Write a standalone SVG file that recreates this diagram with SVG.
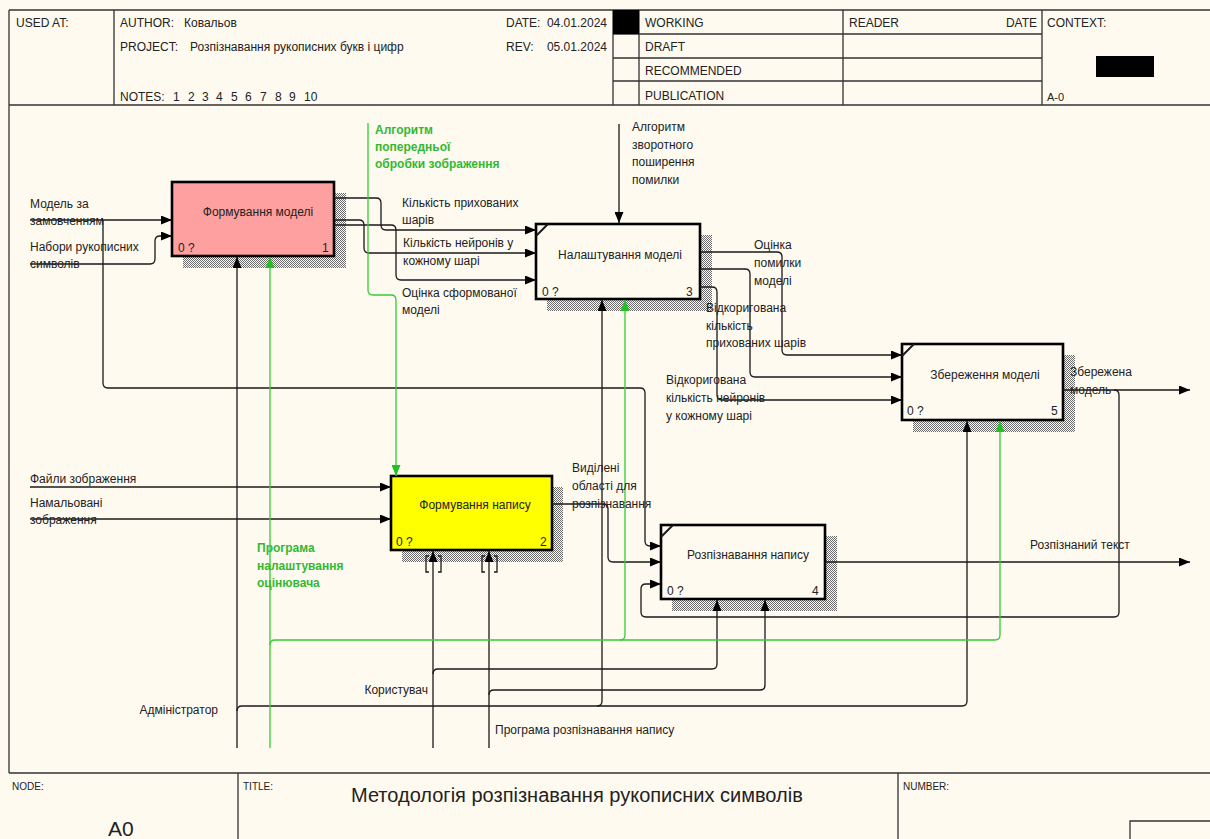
<svg xmlns="http://www.w3.org/2000/svg" width="1210" height="839" viewBox="0 0 1210 839">
<defs>
<style>
.t{font-family:"Liberation Sans",Arial,sans-serif;font-size:12px;fill:#222}
.s{font-size:10px}
.g{fill:#33b833;font-weight:bold}
.c{text-anchor:middle}
.e{text-anchor:end}
.fr{fill:none;stroke:#333;stroke-width:1.3}
.ln{fill:none;stroke:#1a1a1a;stroke-width:1.3}
.ar{marker-end:url(#ah)}
.gl{fill:none;stroke:#33cc33;stroke-width:1.3}
.ga{marker-end:url(#gh)}
.box{stroke:#000;stroke-width:2.6}
.sh{fill:url(#hatch)}
</style>
<pattern id="hatch" width="2" height="2" patternUnits="userSpaceOnUse">
<rect x="0" y="0" width="1" height="1" fill="#6a6a6a"/>
<rect x="1" y="1" width="1" height="1" fill="#6a6a6a"/>
</pattern>
<marker id="ah" markerWidth="11" markerHeight="9" refX="11" refY="4.5" orient="auto" markerUnits="userSpaceOnUse">
<path d="M0,0 L11,4.5 L0,9 z" fill="#000"/>
</marker>
<marker id="gh" markerWidth="11" markerHeight="9" refX="11" refY="4.5" orient="auto" markerUnits="userSpaceOnUse">
<path d="M0,0 L11,4.5 L0,9 z" fill="#22c022"/>
</marker>
</defs>
<rect x="0" y="0" width="1210" height="839" fill="#fffaf0"/>

<g id="frame">
<path class="fr" d="M9,10 H1215 M9,10 V773 M9,105 H1215 M114,10 V105 M613,10 V105 M639,10 V105 M843,10 V105 M1042,10 V105 M613,34 H1042 M613,58 H1042 M613,81 H1042 M9,773 H1215 M238,773 V839 M898,773 V839 M1130,845 V821 H1215"/>
<rect x="613" y="10" width="26" height="24" fill="#000"/>
<rect x="1096" y="56" width="58" height="21" fill="#000"/>
<text class="t" x="16" y="27">USED AT:</text>
<text class="t" x="120" y="27">AUTHOR:</text>
<text class="t" x="184" y="27">Ковальов</text>
<text class="t" x="120" y="51">PROJECT:</text>
<text class="t" x="190" y="51">Розпізнавання рукописних букв і цифр</text>
<text class="t" x="506" y="27">DATE:</text>
<text class="t e" x="607" y="27">04.01.2024</text>
<text class="t" x="506" y="51">REV:</text>
<text class="t e" x="607" y="51">05.01.2024</text>
<text class="t" x="120" y="101">NOTES:</text>
<text class="t" x="173" y="101">1</text>
<text class="t" x="188" y="101">2</text>
<text class="t" x="202" y="101">3</text>
<text class="t" x="216" y="101">4</text>
<text class="t" x="231" y="101">5</text>
<text class="t" x="245" y="101">6</text>
<text class="t" x="260" y="101">7</text>
<text class="t" x="275" y="101">8</text>
<text class="t" x="289" y="101">9</text>
<text class="t" x="304" y="101">10</text>
<text class="t" x="645" y="27">WORKING</text>
<text class="t" x="645" y="51">DRAFT</text>
<text class="t" x="645" y="75">RECOMMENDED</text>
<text class="t" x="645" y="100">PUBLICATION</text>
<text class="t" x="849" y="27">READER</text>
<text class="t e" x="1037" y="27">DATE</text>
<text class="t" x="1047" y="27">CONTEXT:</text>
<text class="t" x="1047" y="101" style="font-size:11px">A-0</text>
<text class="t s" x="12" y="790">NODE:</text>
<text class="t s" x="243" y="790">TITLE:</text>
<text class="t s" x="903" y="790">NUMBER:</text>
<text class="t" x="351" y="802" style="font-size:20px">Методологія розпізнавання рукописних символів</text>
<text class="t" x="108" y="836" style="font-size:21px">A0</text>
</g>

<g id="node1">
<rect class="sh" x="183" y="193" width="163" height="75"/>
<rect class="box" x="172" y="182" width="162" height="74" fill="#ffa0a0"/>
<text class="t c" x="258" y="216">Формування моделі</text>
<text class="t" x="178" y="252">0 ?</text>
<text class="t" x="322" y="252">1</text>
</g>

<g id="node2">
<rect class="sh" x="547" y="235" width="165" height="76"/>
<rect class="box" x="536" y="224" width="164" height="75" fill="#fffaf0"/>
<path class="ln" d="M536,236 L548,224" style="stroke-width:2"/>
<text class="t c" x="620" y="259">Налаштування моделі</text>
<text class="t" x="542" y="296">0 ?</text>
<text class="t" x="686" y="296">3</text>
</g>

<g id="node3">
<rect class="sh" x="402" y="487" width="161" height="75"/>
<rect class="box" x="391" y="476" width="161" height="74" fill="#ffff00"/>
<text class="t c" x="475" y="509">Формування напису</text>
<text class="t" x="396" y="546">0 ?</text>
<text class="t" x="540" y="546">2</text>
</g>

<g id="node4">
<rect class="sh" x="672" y="536" width="165" height="75"/>
<rect class="box" x="661" y="525" width="164" height="74" fill="#fffaf0"/>
<path class="ln" d="M661,537 L673,525" style="stroke-width:2"/>
<text class="t c" x="748" y="559">Розпізнавання напису</text>
<text class="t" x="667" y="595">0 ?</text>
<text class="t" x="812" y="595">4</text>
</g>

<g id="node5">
<rect class="sh" x="913" y="355" width="162" height="77"/>
<rect class="box" x="902" y="344" width="161" height="76" fill="#fffaf0"/>
<path class="ln" d="M902,356 L914,344" style="stroke-width:2"/>
<text class="t c" x="985" y="379">Збереження моделі</text>
<text class="t" x="907" y="415">0 ?</text>
<text class="t" x="1051" y="415">5</text>
</g>

<g id="connectors">
<path class="ln ar" d="M30,220 H172"/>
<path class="ln ar" d="M103,220 V383 Q103,388 108,388 H640 Q645,388 645,393 V541 Q645,546 650,546 H661"/>
<path class="ln ar" d="M30,264 H150 Q155,264 155,259 V241 Q155,236 160,236 H172"/>
<path class="ln ar" d="M334,198 H376 Q381,198 381,203 V225 Q381,230 386,230 H536"/>
<path class="ln ar" d="M334,220 H359 Q364,220 364,225 V248 Q364,253 369,253 H536"/>
<path class="ln ar" d="M334,225 H391 Q396,225 396,230 V275 Q396,280 401,280 H536"/>
<path class="ln ar" d="M619,124 V223"/>
<path class="ln ar" d="M700,252 H777 Q782,252 782,257 V350 Q782,355 787,355 H902"/>
<path class="ln ar" d="M700,269 H745 Q750,269 750,274 V372 Q750,377 755,377 H902"/>
<path class="ln ar" d="M700,287 H712 Q717,287 717,292 V395 Q717,400 722,400 H902"/>
<path class="ln ar" d="M1063,390 H1190"/>
<path class="ln ar" d="M1114,390 Q1119,390 1119,395 V612 Q1119,617 1114,617 H646 Q641,617 641,612 V589 Q641,584 646,584 H661"/>
<path class="ln ar" d="M30,487 H391"/>
<path class="ln ar" d="M30,519 H391"/>
<path class="ln ar" d="M552,504 H603 Q608,504 608,509 V557 Q608,562 613,562 H661"/>
<path class="ln ar" d="M825,562 H1190"/>
<path class="ln ar" d="M237,748 V257"/>
<path class="ln ar" d="M237,711 Q237,706 242,706 H962 Q967,706 967,701 V421"/>
<path class="ln ar" d="M597,706 Q602,706 602,701 V300"/>
<path class="ln ar" d="M433,748 V551"/>
<path class="ln ar" d="M433,674 Q433,669 438,669 H712 Q717,669 717,664 V600"/>
<path class="ln ar" d="M489,748 V551"/>
<path class="ln ar" d="M489,695 Q489,690 494,690 H760 Q765,690 765,685 V600"/>
<path class="ln" d="M429,556 H426 V572 H429 M438,556 H441 V572 H438 M485,556 H482 V572 H485 M494,556 H497 V572 H494"/>
<path class="gl ga" d="M270,748 V257"/>
<path class="gl ga" d="M270,645 Q270,640 275,640 H995 Q1000,640 1000,635 V421"/>
<path class="gl ga" d="M620,640 Q625,640 625,635 V300"/>
<path class="gl ga" d="M368,123 V290 Q368,295 373,295 H391 Q396,295 396,300 V476"/>
<text class="t" x="30" y="208">Модель за</text>
<text class="t" x="30" y="225">замовченням</text>
<text class="t" x="30" y="251">Набори рукописних</text>
<text class="t" x="30" y="268">символів</text>
<text class="t" x="30" y="483">Файли зображення</text>
<text class="t" x="30" y="507">Намальовані</text>
<text class="t" x="30" y="524">зображення</text>
<text class="t g" x="257" y="552">Програма</text>
<text class="t g" x="257" y="570">налаштування</text>
<text class="t g" x="257" y="587">оцінювача</text>
<text class="t g" x="375" y="134">Алгоритм</text>
<text class="t g" x="375" y="151">попередньої</text>
<text class="t g" x="375" y="168">обробки зображення</text>
<text class="t" x="632" y="131">Алгоритм</text>
<text class="t" x="632" y="149">зворотного</text>
<text class="t" x="632" y="166">поширення</text>
<text class="t" x="632" y="184">помилки</text>
<text class="t" x="402" y="207">Кількість прихованих</text>
<text class="t" x="402" y="224">шарів</text>
<text class="t" x="403" y="247">Кількість нейронів у</text>
<text class="t" x="403" y="265">кожному шарі</text>
<text class="t" x="402" y="297">Оцінка сформованої</text>
<text class="t" x="402" y="314">моделі</text>
<text class="t" x="754" y="249">Оцінка</text>
<text class="t" x="754" y="267">помилки</text>
<text class="t" x="754" y="285">моделі</text>
<text class="t" x="706" y="312">Відкоригована</text>
<text class="t" x="706" y="330">кількість</text>
<text class="t" x="706" y="347">прихованих шарів</text>
<text class="t" x="666" y="384">Відкоригована</text>
<text class="t" x="666" y="402">кількість нейронів</text>
<text class="t" x="666" y="420">у кожному шарі</text>
<text class="t" x="1070" y="376">Збережена</text>
<text class="t" x="1070" y="394">модель</text>
<text class="t" x="572" y="472">Виділені</text>
<text class="t" x="572" y="490">області для</text>
<text class="t" x="572" y="508">розпізнавання</text>
<text class="t" x="1030" y="549">Розпізнаний текст</text>
<text class="t e" x="428" y="694">Користувач</text>
<text class="t e" x="218" y="714">Адміністратор</text>
<text class="t" x="495" y="734">Програма розпізнавання напису</text>
</g>
</svg>
